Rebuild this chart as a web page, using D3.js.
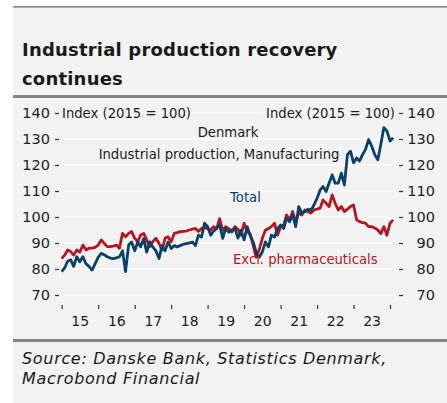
<!DOCTYPE html>
<html><head><meta charset="utf-8">
<script src="https://cdn.jsdelivr.net/npm/d3@7"></script>
<style>
body{margin:0;background:#fff;}
svg{display:block;}
</style></head>
<body><svg id="c" width="447" height="403"></svg>
<script>
const titleLines = ["Industrial production recovery", "continues"];
const sourceLines = ["Source: Danske Bank, Statistics Denmark,", "Macrobond Financial"];
const startYear = 2015;
const yearTicks = [2015,2016,2017,2018,2019,2020,2021,2022,2023,2024];
const yearLabels = ["15","16","17","18","19","20","21","22","23"];
const yTicks = [70,80,90,100,110,120,130,140];
// Monthly index values from Jan 2015
const total = [79,80.5,83,83.5,81,84.7,82.8,84.7,82,81,79.6,82,
84.5,86,85.5,84.7,84.2,84,84.3,84.7,87,79,89.2,90.4,
87,90.4,88.5,91.7,86.5,90.4,88.5,87,84,89,87,90.4,
87.9,89,88.5,89,89.5,89.8,90,90.4,89,93,92.3,97.6,
96.3,93,94.5,95.6,97,91.8,95.6,94.2,95,95.6,91.9,94.9,
91.2,96.3,93,90.4,86.5,84.5,86.5,90.4,88.5,93,92.3,95.6,
96.9,95.6,99.5,98.2,100.8,96.3,104,101.5,102,103,102.6,104.6,
107.2,110.4,111.7,109.8,113,116.2,113,113,116.9,112.3,124,125.3,
120.8,122.7,121.5,124,126,129.8,127.3,124,122,127.9,134.4,133.1,
129.2,130.5];
const exclPharma = [84,85.4,87.3,86.7,85.4,87.3,86.5,89.2,87.3,88,88,88.3,
89.2,91.2,89.9,88.6,88.6,88.8,89.2,88,93.7,92.4,93.7,94.4,
91.8,90.5,93.1,93.7,91.2,88.6,90.5,91.8,89.9,87.3,91.8,92.4,
90.5,93.7,94,94.4,94.5,94.6,95,95.3,95.6,94.4,95.6,95.9,
95.5,95,96.3,95.5,99.4,94.9,96.3,95.5,94.2,96.3,95.3,93,
97.6,94.2,93.6,89.1,84.5,87.5,91.7,94.9,95.6,96.3,97.6,93,
96.3,96.9,100.8,98.9,102.1,98.2,101.5,100.8,102.7,102,101.5,102.7,
103,103.4,106.6,105.3,104,108.5,105.3,102.7,104,102.1,103,104,
104.6,98.9,98.2,97.8,97.6,96.3,96.3,95.8,95,93.6,96.3,93,
97.6,98.9];
const seriesNames = ["Total","Excl. pharmaceuticals"];
const annotations = ["Index (2015 = 100)","Denmark","Industrial production, Manufacturing"];

const blue = "#0a4166", red = "#b5161e", bg = "#f2f2f2", rule = "#858585";
const svg = d3.select("#c");

// panel
svg.append("rect").attr("x",13).attr("y",6).attr("width",434).attr("height",397).attr("fill",bg);
svg.append("rect").attr("x",13).attr("y",6).attr("width",434).attr("height",1.6).attr("fill",rule);
svg.append("rect").attr("x",13).attr("y",95).attr("width",434).attr("height",3).attr("fill",rule);
svg.append("rect").attr("x",13).attr("y",339).attr("width",434).attr("height",3).attr("fill",rule);

// title
svg.selectAll(".title").data(titleLines).join("text")
  .attr("x",22).attr("y",(d,i)=>56+i*29)
  .attr("font-family","DejaVu Sans").attr("font-weight","bold").attr("font-size",18)
  .attr("letter-spacing",0.2)
  .attr("fill","#1a1a1a").text(d=>d);

// source
svg.selectAll(".src").data(sourceLines).join("text")
  .attr("x",22).attr("y",(d,i)=>364+i*19.5)
  .attr("font-family","DejaVu Sans").attr("font-style","italic").attr("font-size",16)
  .attr("letter-spacing",0.68)
  .attr("fill","#1a1a1a").text(d=>d);

const dates = total.map((d,i)=>new Date(startYear, i, 1));
const x = d3.scaleTime().domain([new Date(2015,0,1), new Date(2024,0,1)]).range([61.7, 390]);
const y = d3.scaleLinear().domain([70,140]).range([295,113]);

// gridlines
svg.append("g").selectAll("line").data(yTicks).join("line")
  .attr("x1",62).attr("x2",396).attr("y1",d=>y(d)).attr("y2",d=>y(d))
  .attr("stroke","#fff").attr("stroke-width",1.2);

// y axes
const yl = svg.append("g").attr("transform","translate(59,0)")
  .call(d3.axisLeft(y).tickValues(yTicks).tickSize(4).tickPadding(5));
const yr = svg.append("g").attr("transform","translate(399,0)")
  .call(d3.axisRight(y).tickValues(yTicks).tickSize(4).tickPadding(5));
[yl,yr].forEach(g=>{
  g.select(".domain").remove();
  g.selectAll(".tick line").attr("stroke","#333").attr("stroke-width",1.2);
  g.selectAll("text").attr("font-family","DejaVu Sans").attr("font-size",14.5).attr("fill","#222");
});
yr.selectAll("text").attr("text-anchor","end").attr("x",36);

// x axis ticks
const xt = svg.append("g").attr("transform","translate(0,305)")
  .call(d3.axisBottom(x).tickValues(yearTicks.map(v=>new Date(v,0,1))).tickSize(4).tickFormat(""));
xt.select(".domain").remove();
xt.selectAll(".tick line").attr("stroke","#333").attr("stroke-width",1.2);
const xl = svg.append("g").attr("transform","translate(0,313)")
  .call(d3.axisBottom(x).tickValues(yearLabels.map((s,i)=>new Date(yearTicks[i],6,1))).tickSize(0).tickFormat((d,i)=>yearLabels[i]));
xl.select(".domain").remove();
xl.selectAll("text").attr("font-family","DejaVu Sans").attr("font-size",14).attr("fill","#222");

// lines
const line = d3.line().x((d,i)=>x(dates[i])).y(d=>y(d)).curve(d3.curveLinear);
svg.append("path").datum(exclPharma).attr("d",line).attr("fill","none")
  .attr("stroke",red).attr("stroke-width",2.8).attr("stroke-linejoin","round");
svg.append("path").datum(total).attr("d",line).attr("fill","none")
  .attr("stroke",blue).attr("stroke-width",2.8).attr("stroke-linejoin","round");

// annotations
const tf = "DejaVu Sans", fs = 13.2;
svg.append("text").attr("x",62).attr("y",118).attr("font-family",tf).attr("font-size",fs).attr("fill","#1a1a1a").text(annotations[0]);
svg.append("text").attr("x",395).attr("y",118).attr("text-anchor","end").attr("font-family",tf).attr("font-size",fs).attr("fill","#1a1a1a").text(annotations[0]);
svg.append("text").attr("x",228).attr("y",137).attr("text-anchor","middle").attr("font-family",tf).attr("font-size",fs).attr("fill","#1a1a1a").text(annotations[1]);
svg.append("text").attr("x",219).attr("y",159).attr("text-anchor","middle").attr("font-family",tf).attr("font-size",fs).attr("fill","#1a1a1a").text(annotations[2]);
svg.append("text").attr("x",230).attr("y",202).attr("font-family",tf).attr("font-size",fs).attr("fill",blue).text(seriesNames[0]);
svg.append("text").attr("x",233).attr("y",264).attr("font-family",tf).attr("font-size",fs).attr("fill",red).text(seriesNames[1]);
</script></body></html>
